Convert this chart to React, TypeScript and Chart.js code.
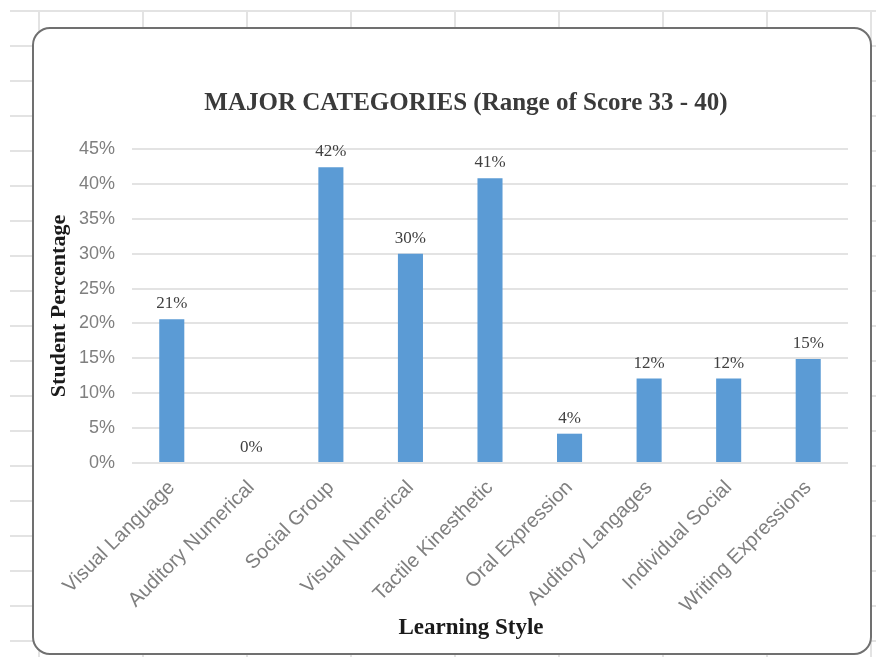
import React, { useEffect, useRef } from "react";
import { Chart, registerables } from "chart.js";

Chart.register(...registerables);

const categories = [
  "Visual Language",
  "Auditory Numerical",
  "Social Group",
  "Visual Numerical",
  "Tactile Kinesthetic",
  "Oral Expression",
  "Auditory Langages",
  "Individual Social",
  "Writing Expressions",
];
const values = [20.6, 0, 42.4, 30.0, 40.8, 4.2, 12.1, 12.1, 14.9];
const valueLabels = ["21%", "0%", "42%", "30%", "41%", "4%", "12%", "12%", "15%"];
const yMin = 0;
const yMax = 45;
const yStep = 5;
const chartTitle = "MAJOR CATEGORIES (Range of Score 33 - 40)";
const xTitle = "Learning Style";
const yTitle = "Student Percentage";

const SERIF = "'Liberation Serif', 'Times New Roman', serif";
const SANS = "'Liberation Sans', Arial, sans-serif";

export default function App() {
  const ref = useRef<HTMLCanvasElement | null>(null);

  useEffect(() => {
    if (!ref.current) return;
    const labelsPlugin = {
      id: "valueLabels",
      afterDatasetsDraw(chart: any) {
        const ctx = chart.ctx;
        const meta = chart.getDatasetMeta(0);
        ctx.save();
        ctx.font = `17px ${SERIF}`;
        ctx.fillStyle = "#404040";
        ctx.textAlign = "center";
        ctx.textBaseline = "bottom";
        meta.data.forEach((el: any, i: number) => {
          ctx.fillText(valueLabels[i], el.x, el.y - 7);
        });
        ctx.restore();
      },
    };
    const titlesPlugin = {
      id: "titles",
      afterDraw(chart: any) {
        const ctx = chart.ctx;
        ctx.save();
        ctx.textAlign = "center";
        ctx.textBaseline = "middle";
        ctx.fillStyle = "#3a3a3a";
        ctx.font = `bold 25px ${SERIF}`;
        ctx.fillText(chartTitle, 432, 75);
        ctx.fillStyle = "#1a1a1a";
        ctx.font = `bold 23px ${SERIF}`;
        ctx.fillText(xTitle, 437, 599);
        ctx.restore();
      },
    };
    const chart = new Chart(ref.current, {
      type: "bar",
      data: {
        labels: categories,
        datasets: [
          {
            data: values,
            backgroundColor: "#5b9bd5",
            barPercentage: 0.315,
            categoryPercentage: 1,
          },
        ],
      },
      options: {
        animation: false,
        responsive: true,
        maintainAspectRatio: false,
        layout: { padding: { top: 120, left: 0, right: 22, bottom: 0 } },
        plugins: {
          legend: { display: false },
          tooltip: { enabled: false },
          title: { display: false },
        },
        scales: {
          x: {
            grid: { display: false, drawTicks: false },
            border: { display: false },
            ticks: {
              minRotation: 45,
              maxRotation: 45,
              autoSkip: false,
              padding: 13,
              color: "#7f7f7f",
              font: { family: SANS, size: 20 },
            },
            afterFit(scale: any) {
              scale.height = 190;
            },
          },
          y: {
            min: yMin,
            max: yMax,
            grid: { color: "#e3e3e3", lineWidth: 2, drawTicks: false, tickLength: 0 },
            border: { display: false },
            ticks: {
              stepSize: yStep,
              padding: 17,
              color: "#7f7f7f",
              font: { family: SANS, size: 18 },
              callback: (v: any) => `${v}%`,
            },
            title: {
              display: true,
              text: yTitle,
              color: "#1a1a1a",
              font: { family: SERIF, size: 22, weight: "bold" },
              padding: { top: 12, bottom: 0 },
            },
            afterFit(scale: any) {
              scale.width = 98;
            },
          },
        },
      },
      plugins: [labelsPlugin, titlesPlugin],
    });
    return () => chart.destroy();
  }, []);

  return (
    <div style={{ position: "fixed", left: 0, top: 0, width: 876, height: 657, background: "#fff", overflow: "hidden" }}>
      <div
        style={{
          position: "absolute",
          left: 10,
          top: 10,
          right: 0,
          bottom: 0,
          backgroundImage:
            "repeating-linear-gradient(to bottom, #e3e3e3 0px, #e3e3e3 2px, transparent 2px, transparent 35px), repeating-linear-gradient(to right, transparent 0px, transparent 28px, #e3e3e3 28px, #e3e3e3 30px, transparent 30px, transparent 104px)",
        }}
      />
      <div
        style={{
          position: "absolute",
          left: 32,
          top: 27,
          width: 840,
          height: 628,
          boxSizing: "border-box",
          border: "2px solid #707070",
          borderRadius: 18,
          background: "#fff",
          overflow: "hidden",
        }}
      >
        <div style={{ position: "relative", width: 836, height: 624 }}>
          <canvas ref={ref} />
        </div>
      </div>
    </div>
  );
}
